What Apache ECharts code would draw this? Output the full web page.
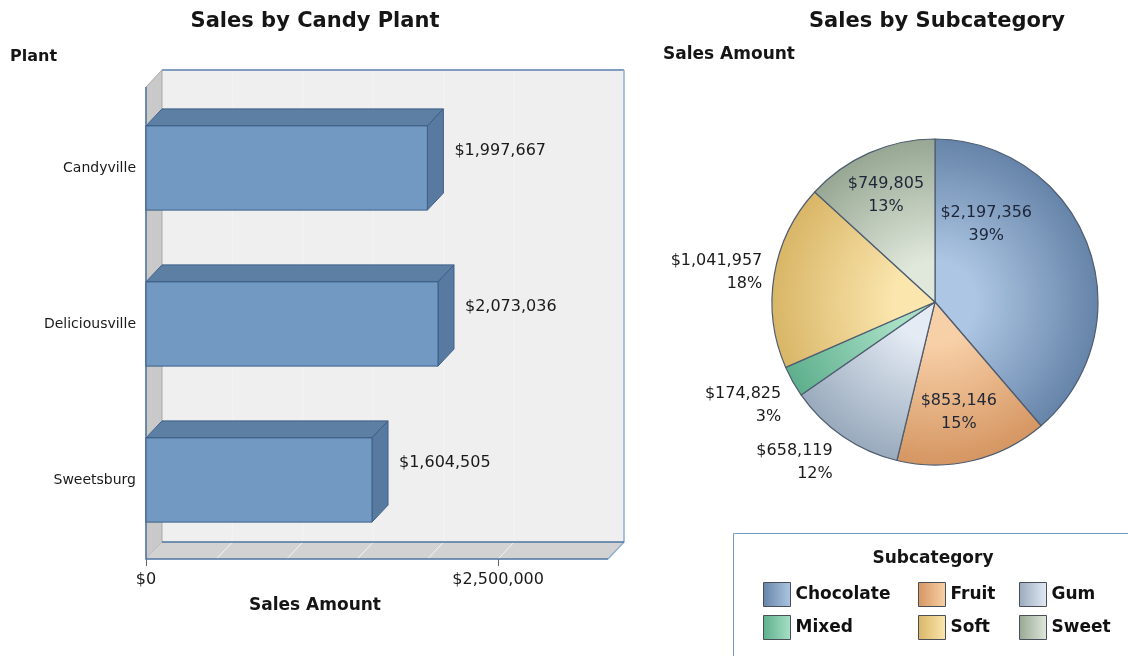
<!DOCTYPE html>
<html>
<head>
<meta charset="utf-8">
<title>Candy Sales</title>
<script src="https://cdn.jsdelivr.net/npm/echarts@6/dist/echarts.min.js"></script>
<style>
html, body { margin: 0; padding: 0; background: #fff; }
#main { width: 1128px; height: 656px; }
</style>
</head>
<body>
<div id="main"></div>
<script>
// bar chart data
var plants = ['Candyville', 'Deliciousville', 'Sweetsburg'];
var plantSales = [1997667, 2073036, 1604505];
var gridTicks = [500000, 1000000, 1500000, 2000000, 2500000];
var labeledTicks = [0, 2500000];

// pie data
var subcats = ['Chocolate', 'Fruit', 'Gum', 'Mixed', 'Soft', 'Sweet'];
var subcatSales = [2197356, 853146, 658119, 174825, 1041957, 749805];

// slice shading (light near centre, darker at the rim)
var lightColors = ['#adc6e3', '#f8d0a8', '#e4ebf4', '#a8e0c6', '#fbe6ae', '#e0e8dc'];
var rimColors = ['#6684a9', '#d59662', '#99aabd', '#5eaf8d', '#d9b667', '#97a793'];
var labelPlace = ['inside', 'inside', 'outside', 'outside', 'outside', 'inside'];
var labelShift = [[-28, -48], [4, 28], [-3, 23], [-3, 22], [-3, -2], [-15, -29]];
var legendLeft = [763, 918, 1019];

var FONT = '"DejaVu Sans", Verdana, sans-serif';
var DX = 16, DY = 17; // depth of the 3d look
var pieCx = 935, pieCy = 302, pieR = 163;

function money(v) {
    return '$' + String(v).replace(/\B(?=(\d{3})+(?!\d))/g, ',');
}

var myChart = echarts.init(document.getElementById('main'));

// walls + floor behind the bars
function renderWalls(params, api) {
    var cs = params.coordSys;
    var x0 = cs.x, x1 = cs.x + cs.width;
    var y0 = cs.y - 3, y1 = cs.y + cs.height + 1;
    var kids = [];
    kids.push({type: 'rect', shape: {x: x0 + DX, y: y0 - DY, width: x1 - x0, height: y1 - y0},
        style: {fill: '#efefef', stroke: null}});
    kids.push({type: 'polygon', shape: {points: [[x0, y0], [x0 + DX, y0 - DY], [x0 + DX, y1 - DY], [x0, y1]]},
        style: {fill: '#c9c9c9', stroke: '#a9a9a9', lineWidth: 1}});
    kids.push({type: 'polygon', shape: {points: [[x0, y1], [x0 + DX, y1 - DY], [x1 + DX, y1 - DY], [x1, y1]]},
        style: {fill: '#d2d2d2', stroke: null}});
    gridTicks.forEach(function (v) {
        var fx = api.coord([v, 0])[0];
        kids.push({type: 'line', shape: {x1: fx, y1: y1, x2: fx + DX, y2: y1 - DY},
            style: {stroke: '#f4f4f4', lineWidth: 1}});
        kids.push({type: 'line', shape: {x1: fx + DX, y1: y0 - DY, x2: fx + DX, y2: y1 - DY},
            style: {stroke: '#f4f4f4', lineWidth: 1}});
    });
    // edges
    kids.push({type: 'polyline', shape: {points: [[x0 + DX, y0 - DY], [x1 + DX, y0 - DY]]},
        style: {stroke: '#5d7fa8', lineWidth: 1.5, fill: null}});
    kids.push({type: 'polyline', shape: {points: [[x1 + DX, y0 - DY], [x1 + DX, y1 - DY], [x1, y1]]},
        style: {stroke: '#8fb0d2', lineWidth: 1.5, fill: null}});
    kids.push({type: 'polyline', shape: {points: [[x0 + DX, y1 - DY], [x1 + DX, y1 - DY]]},
        style: {stroke: '#4d74a0', lineWidth: 1.5, fill: null}});
    kids.push({type: 'polyline', shape: {points: [[x0, y0], [x0, y1], [x1, y1]]},
        style: {stroke: '#4f76a3', lineWidth: 1.5, fill: null}});
    return {type: 'group', children: kids};
}

function renderBar(params, api) {
    var val = api.value(0);
    var cat = api.value(1);
    var p0 = api.coord([0, cat]);
    var p1 = api.coord([val, cat]);
    var h = api.size([0, 1])[1] * 0.54;
    var top = p1[1] - h / 2, bot = p1[1] + h / 2;
    var xa = p0[0], xb = p1[0];
    return {
        type: 'group',
        children: [
            {type: 'polygon', shape: {points: [[xa, top], [xb, top], [xb + DX, top - DY], [xa + DX, top - DY]]},
                style: {fill: '#5e7fa4', stroke: '#3c5f88', lineWidth: 1}},
            {type: 'polygon', shape: {points: [[xb, top], [xb + DX, top - DY], [xb + DX, bot - DY], [xb, bot]]},
                style: {fill: '#587aa0', stroke: '#3c5f88', lineWidth: 1}},
            {type: 'rect', shape: {x: xa, y: top, width: xb - xa, height: h},
                style: {fill: '#7299c1', stroke: '#3c5f88', lineWidth: 1}},
            {type: 'text', x: xb + DX + 11, y: p1[1] - DY,
                style: {text: money(val), fill: '#1a1a1a', fontSize: 16, fontFamily: FONT,
                    align: 'left', verticalAlign: 'middle'}}
        ]
    };
}

var pieData = subcats.map(function (name, i) {
    var inside = labelPlace[i] === 'inside';
    return {
        name: name,
        value: subcatSales[i],
        itemStyle: {
            color: {
                type: 'radial', x: pieCx, y: pieCy, r: pieR, global: true,
                colorStops: [
                    {offset: 0, color: lightColors[i]},
                    {offset: 0.25, color: lightColors[i]},
                    {offset: 1, color: rimColors[i]}
                ]
            }
        },
        label: {
            position: labelPlace[i],
            offset: labelShift[i],
            color: inside ? '#1d2638' : '#1a1a1a',
            align: inside ? 'center' : 'right'
        }
    };
});

function legendCol(col) {
    return {
        orient: 'vertical',
        left: legendLeft[col],
        top: 582,
        padding: 0,
        itemWidth: 27,
        itemHeight: 24,
        itemGap: 8,
        icon: 'rect',
        selectedMode: false,
        textStyle: {fontSize: 17, fontWeight: 'bold', fontFamily: FONT, color: '#111'},
        data: [col, col + 3].map(function (i) {
            return {
                name: subcats[i],
                itemStyle: {
                    color: {
                        type: 'linear', x: 0, y: 0, x2: 1, y2: 0,
                        colorStops: [
                            {offset: 0, color: rimColors[i]},
                            {offset: 1, color: lightColors[i]}
                        ]
                    },
                    borderColor: '#4a4f57',
                    borderWidth: 1
                }
            };
        })
    };
}

var option = {
    backgroundColor: '#fff',
    animation: false,
    textStyle: {fontFamily: FONT},
    graphic: [
        {type: 'text', x: 315, y: 22, style: {text: 'Sales by Candy Plant', fontSize: 21, fontWeight: 'bold',
            fontFamily: FONT, fill: '#151515', align: 'center', verticalAlign: 'middle'}},
        {type: 'text', x: 937, y: 22, style: {text: 'Sales by Subcategory', fontSize: 21, fontWeight: 'bold',
            fontFamily: FONT, fill: '#151515', align: 'center', verticalAlign: 'middle'}},
        {type: 'text', x: 10, y: 57, style: {text: 'Plant', fontSize: 16, fontWeight: 'bold',
            fontFamily: FONT, fill: '#151515', align: 'left', verticalAlign: 'middle'}},
        {type: 'text', x: 663, y: 55, style: {text: 'Sales Amount', fontSize: 17, fontWeight: 'bold',
            fontFamily: FONT, fill: '#151515', align: 'left', verticalAlign: 'middle'}},
        {type: 'text', x: 315, y: 606, style: {text: 'Sales Amount', fontSize: 17, fontWeight: 'bold',
            fontFamily: FONT, fill: '#151515', align: 'center', verticalAlign: 'middle'}},
        {type: 'rect', shape: {x: 733.5, y: 533.5, width: 420, height: 140},
            style: {fill: null, stroke: '#7799c2', lineWidth: 1}},
        {type: 'text', x: 933, y: 559, style: {text: 'Subcategory', fontSize: 17, fontWeight: 'bold',
            fontFamily: FONT, fill: '#151515', align: 'center', verticalAlign: 'middle'}}
    ],
    legend: [legendCol(0), legendCol(1), legendCol(2)],
    grid: {left: 146, top: 90, width: 462, height: 468, outerBoundsMode: 'none'},
    xAxis: {
        type: 'value',
        min: 0,
        max: 3280000,
        axisLine: {show: false},
        splitLine: {show: false},
        axisTick: {show: true, length: 8, customValues: labeledTicks, lineStyle: {color: '#666'}},
        axisLabel: {customValues: labeledTicks, margin: 14, fontSize: 16, color: '#1a1a1a',
            fontFamily: FONT, formatter: money}
    },
    yAxis: {
        type: 'category',
        data: plants,
        inverse: true,
        axisLine: {show: false},
        axisTick: {show: false},
        axisLabel: {fontSize: 14, color: '#1a1a1a', margin: 10, fontFamily: FONT}
    },
    series: [
        {
            type: 'custom',
            renderItem: renderWalls,
            data: [[0, 0]],
            z: 1,
            silent: true
        },
        {
            type: 'custom',
            renderItem: renderBar,
            encode: {x: 0, y: 1},
            data: plants.map(function (p, i) { return [plantSales[i], i]; }),
            z: 2
        },
        {
            name: 'Subcategory',
            type: 'pie',
            center: [pieCx, pieCy],
            radius: pieR,
            startAngle: 90,
            clockwise: true,
            percentPrecision: 0,
            avoidLabelOverlap: false,
            itemStyle: {borderColor: '#4e5d70', borderWidth: 1.2},
            label: {
                show: true,
                fontSize: 16,
                lineHeight: 23,
                fontFamily: FONT,
                formatter: function (a) { return money(a.value) + '\n' + a.percent + '%'; }
            },
            labelLine: {show: false, length: 4, length2: 0},
            emphasis: {disabled: true},
            data: pieData
        }
    ]
};
myChart.setOption(option);
</script>
</body>
</html>
